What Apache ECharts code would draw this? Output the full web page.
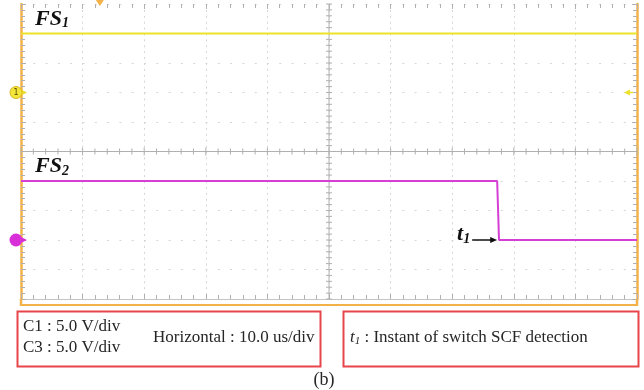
<!DOCTYPE html>
<html>
<head>
<meta charset="utf-8">
<script src="https://cdn.jsdelivr.net/npm/echarts@6/dist/echarts.min.js"></script>
<style>
  html, body { margin: 0; padding: 0; background: #fff; }
  #chart { width: 644px; height: 390px; }
</style>
</head>
<body>
<div id="chart"></div>
<script>
// Time base: microseconds relative to screen centre, 10 us/div, 10 divisions
const timeMin = -50;
const timeMax = 50;
const timeDiv = 10;

// Channel 1 (FS1) samples: time (us) and voltage (V)
const ch1Time = [-50, 50];
const ch1Volts = [10, 10];
// Channel 3 (FS2) samples: time (us) and voltage (V)
const ch3Time = [-50, 27.3, 27.6, 50];
const ch3Volts = [10, 10, 0, 0];

// Vertical settings: volts per division and ground offset in divisions
const ch1VoltsPerDiv = 5.0;
const ch3VoltsPerDiv = 5.0;
const ch1OffsetDiv = 2;
const ch3OffsetDiv = -3;

// Trigger position (us)
const triggerTime = -37.2;

// Readout text
const readoutLeft = ['C1 : 5.0 V/div', 'C3 : 5.0 V/div'];
const readoutHoriz = 'Horizontal : 10.0 us/div';
const readoutNote = ' : Instant of switch SCF detection';
const caption = '(b)';

const toDiv = (times, volts, vpd, off) => times.map((t, i) => [t, volts[i] / vpd + off]);

// minor graticule positions along the centre axes
const xMinor = [];
for (let t = timeMin; t <= timeMax + 1e-9; t += timeDiv / 5) xMinor.push([+t.toFixed(2)]);
const yMinor = [];
for (let d = -5; d <= 5 + 1e-9; d += 0.2) yMinor.push([+d.toFixed(2)]);

const gridGray = '#d6d6d6';
const tickGray = '#b0b0b0';
const yellow = '#ece22a';
const magenta = '#d63fd6';
const orange = '#f3b247';
const red = '#e8454a';
const serif = '"Liberation Serif", "Times New Roman", serif';

const chart = echarts.init(document.getElementById('chart'), null, { renderer: 'canvas' });

const edgeTick = { show: true, inside: true, length: 5, lineStyle: { color: tickGray, width: 1 } };
const edgeMinor = { show: true, splitNumber: 5, length: 4, lineStyle: { color: tickGray, width: 1 } };

chart.setOption({
  animation: false,
  backgroundColor: '#fff',
  grid: { left: 21, right: 7, top: 4, bottom: 91 },
  xAxis: [
    {
      type: 'value', min: timeMin, max: timeMax, interval: timeDiv, position: 'bottom',
      axisLine: { onZero: false, show: true, lineStyle: { color: '#c4c4c4', width: 1 } },
      axisTick: edgeTick, minorTick: edgeMinor, axisLabel: { show: false },
      splitLine: { show: true, lineStyle: { color: gridGray, width: 1, type: [2, 3.9] } }
    },
    {
      type: 'value', min: timeMin, max: timeMax, interval: timeDiv, position: 'top',
      axisLine: { onZero: false, show: false },
      axisTick: edgeTick, minorTick: edgeMinor, axisLabel: { show: false },
      splitLine: { show: false }
    }
  ],
  yAxis: [
    {
      type: 'value', min: -5, max: 5, interval: 1, position: 'left',
      axisLine: { onZero: false, show: true, lineStyle: { color: orange, width: 2.5 } },
      axisTick: edgeTick, minorTick: edgeMinor, axisLabel: { show: false },
      splitLine: { show: true, lineStyle: { color: gridGray, width: 1, type: [2, 10.3] } }
    },
    {
      type: 'value', min: -5, max: 5, interval: 1, position: 'right',
      axisLine: { onZero: false, show: true, lineStyle: { color: orange, width: 2.5 } },
      axisTick: edgeTick, minorTick: edgeMinor, axisLabel: { show: false },
      splitLine: { show: false }
    }
  ],
  series: [
    {
      // centre horizontal graticule with cross ticks
      type: 'custom', silent: true, clip: false, z: 1,
      data: xMinor,
      renderItem: (params, api) => {
        const p = api.coord([api.value(0), 0]);
        const major = Math.abs(api.value(0) % timeDiv) < 1e-6;
        const h = major ? 4 : 3;
        const children = [{ type: 'line', shape: { x1: p[0], y1: p[1] - h, x2: p[0], y2: p[1] + h }, style: { stroke: tickGray, lineWidth: 1 } }];
        if (params.dataIndex === 0) {
          const q = api.coord([timeMax, 0]);
          children.push({ type: 'line', shape: { x1: p[0], y1: p[1], x2: q[0], y2: q[1] }, style: { stroke: tickGray, lineWidth: 1 } });
        }
        return { type: 'group', children };
      }
    },
    {
      // centre vertical graticule with cross ticks
      type: 'custom', silent: true, clip: false, z: 1,
      data: yMinor,
      renderItem: (params, api) => {
        const p = api.coord([0, api.value(0)]);
        const h = 3;
        const children = [{ type: 'line', shape: { x1: p[0] - h, y1: p[1], x2: p[0] + h, y2: p[1] }, style: { stroke: tickGray, lineWidth: 1 } }];
        if (params.dataIndex === 0) {
          const q = api.coord([0, 5]);
          children.push({ type: 'line', shape: { x1: p[0], y1: p[1], x2: q[0], y2: q[1] }, style: { stroke: tickGray, lineWidth: 1 } });
        }
        return { type: 'group', children };
      }
    },
    {
      name: 'FS1', type: 'line', z: 5, symbol: 'none',
      data: toDiv(ch1Time, ch1Volts, ch1VoltsPerDiv, ch1OffsetDiv),
      lineStyle: { color: yellow, width: 2 }
    },
    {
      name: 'FS2', type: 'line', z: 5, symbol: 'none',
      data: toDiv(ch3Time, ch3Volts, ch3VoltsPerDiv, ch3OffsetDiv),
      lineStyle: { color: magenta, width: 2 }
    }
  ]
});

// Overlay: screen frame, channel markers, labels and readout boxes
const px = (t, d) => chart.convertToPixel({ xAxisIndex: 0, yAxisIndex: 0 }, [t, d]);
const g1 = px(timeMin, ch1OffsetDiv);
const g3 = px(timeMin, ch3OffsetDiv);
const trig = px(triggerTime, 5);
const trigLvl = px(timeMax, ch1OffsetDiv);
const fs1Pos = px(timeMin, ch1Volts[0] / ch1VoltsPerDiv + ch1OffsetDiv);
const fs2Pos = px(timeMin, ch3Volts[0] / ch3VoltsPerDiv + ch3OffsetDiv);
const edge = px(ch3Time[1], ch3Volts[2] / ch3VoltsPerDiv + ch3OffsetDiv);
const bottomRight = px(timeMax, -5);
const topLeft = px(timeMin, 5);

const labelRich = {
  a: { fontFamily: serif, fontSize: 22, fontWeight: 'bold', fontStyle: 'italic', fill: '#111' },
  b: { fontFamily: serif, fontSize: 14, fontWeight: 'bold', fontStyle: 'italic', fill: '#111', padding: [9, 0, 0, 0] }
};
const textFill = '#262626';

chart.setOption({
  graphic: [
    // lower frame edge
    { type: 'line', shape: { x1: topLeft[0], y1: bottomRight[1] + 6, x2: bottomRight[0], y2: bottomRight[1] + 6 }, style: { stroke: orange, lineWidth: 2 }, z: 10 },
    { type: 'line', shape: { x1: topLeft[0], y1: bottomRight[1], x2: topLeft[0], y2: bottomRight[1] + 7 }, style: { stroke: orange, lineWidth: 2.5 }, z: 10 },
    { type: 'line', shape: { x1: bottomRight[0], y1: bottomRight[1], x2: bottomRight[0], y2: bottomRight[1] + 7 }, style: { stroke: orange, lineWidth: 2.5 }, z: 10 },
    // trigger position marker
    { type: 'polygon', shape: { points: [[trig[0] - 4, trig[1] - 4], [trig[0] + 4, trig[1] - 4], [trig[0], trig[1] + 2]] }, style: { fill: orange }, z: 10 },
    // trigger level marker
    { type: 'polygon', shape: { points: [[trigLvl[0] - 13, trigLvl[1]], [trigLvl[0] - 7, trigLvl[1] - 3], [trigLvl[0] - 7, trigLvl[1] + 3]] }, style: { fill: yellow }, z: 10 },
    { type: 'line', shape: { x1: trigLvl[0] - 8, y1: trigLvl[1], x2: trigLvl[0] - 4, y2: trigLvl[1] }, style: { stroke: yellow, lineWidth: 1.5 }, z: 10 },
    // channel 1 ground marker
    { type: 'circle', shape: { cx: g1[0] - 5, cy: g1[1], r: 6 }, style: { fill: '#f2e63a', stroke: '#d9b820', lineWidth: 1 }, z: 11 },
    { type: 'text', style: { x: g1[0] - 5, y: g1[1], text: '1', align: 'center', verticalAlign: 'middle', fontSize: 8, fontFamily: 'DejaVu Sans', fill: '#5a4a00' }, z: 12 },
    { type: 'polygon', shape: { points: [[g1[0] + 1, g1[1] - 2.5], [g1[0] + 6, g1[1]], [g1[0] + 1, g1[1] + 2.5]] }, style: { fill: '#e8d830' }, z: 11 },
    // channel 3 ground marker
    { type: 'circle', shape: { cx: g3[0] - 5, cy: g3[1], r: 6.5 }, style: { fill: '#d92fd9' }, z: 11 },
    { type: 'polygon', shape: { points: [[g3[0] + 1, g3[1] - 2.5], [g3[0] + 6, g3[1]], [g3[0] + 1, g3[1] + 2.5]] }, style: { fill: '#d92fd9' }, z: 11 },
    // trace labels
    { type: 'text', style: { x: fs1Pos[0] + 14, y: fs1Pos[1] - 3, text: '{a|FS}{b|1}', rich: labelRich, verticalAlign: 'bottom' }, z: 12 },
    { type: 'text', style: { x: fs2Pos[0] + 14, y: fs2Pos[1] - 3, text: '{a|FS}{b|2}', rich: labelRich, verticalAlign: 'bottom' }, z: 12 },
    // t1 annotation with arrow
    { type: 'text', style: { x: edge[0] - 27, y: edge[1] + 6, text: '{a|t}{b|1}', rich: labelRich, align: 'right', verticalAlign: 'bottom' }, z: 12 },
    { type: 'line', shape: { x1: edge[0] - 25, y1: edge[1], x2: edge[0] - 5, y2: edge[1] }, style: { stroke: '#111', lineWidth: 1.5 }, z: 12 },
    { type: 'polygon', shape: { points: [[edge[0] - 7, edge[1] - 3], [edge[0], edge[1]], [edge[0] - 7, edge[1] + 3]] }, style: { fill: '#111' }, z: 12 },
    // readout boxes
    { type: 'rect', shape: { x: 17.5, y: 311.5, width: 303, height: 55 }, style: { fill: 'none', stroke: red, lineWidth: 2 }, z: 10 },
    { type: 'rect', shape: { x: 343.5, y: 311.5, width: 295, height: 55 }, style: { fill: 'none', stroke: red, lineWidth: 2 }, z: 10 },
    { type: 'text', style: { x: 23, y: 327, text: readoutLeft[0], fontFamily: serif, fontSize: 17, fill: textFill, verticalAlign: 'middle' }, z: 12 },
    { type: 'text', style: { x: 23, y: 348, text: readoutLeft[1], fontFamily: serif, fontSize: 17, fill: textFill, verticalAlign: 'middle' }, z: 12 },
    { type: 'text', style: { x: 153, y: 338, text: readoutHoriz, fontFamily: serif, fontSize: 17, fill: textFill, verticalAlign: 'middle' }, z: 12 },
    { type: 'text', style: { x: 350, y: 338, text: '{i|t}{s|1}{r|' + readoutNote + '}', verticalAlign: 'middle',
      rich: {
        i: { fontFamily: serif, fontSize: 17, fontStyle: 'italic', fill: textFill },
        s: { fontFamily: serif, fontSize: 11, fontStyle: 'italic', fill: textFill, padding: [6, 0, 0, 0] },
        r: { fontFamily: serif, fontSize: 17, fill: textFill }
      } }, z: 12 },
    { type: 'text', style: { x: 324, y: 380, text: caption, fontFamily: serif, fontSize: 18, fill: textFill, align: 'center', verticalAlign: 'middle' }, z: 12 }
  ]
});
</script>
</body>
</html>
